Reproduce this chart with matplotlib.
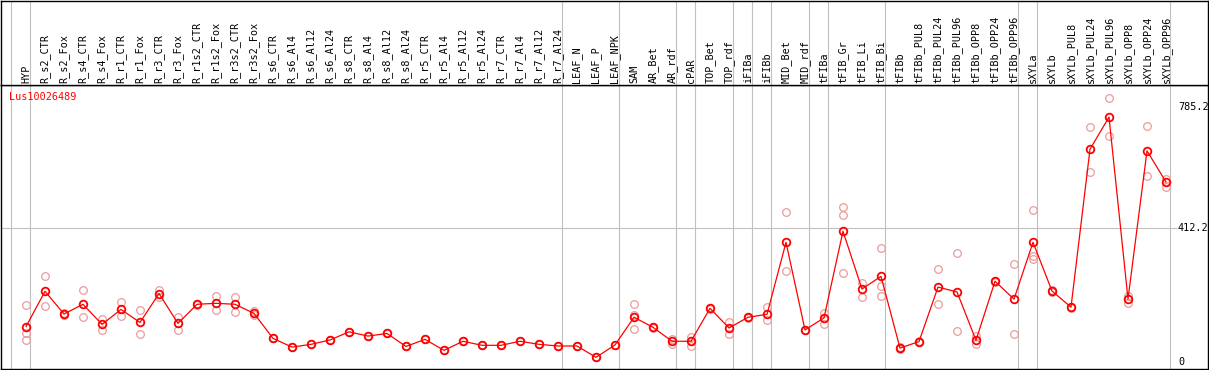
import numpy as np
import matplotlib
matplotlib.use("Agg")
import matplotlib.pyplot as plt

# sample names (one column each)
labels = [
    "HYP",
    "R_s2_CTR", "R_s2_Fox", "R_s4_CTR", "R_s4_Fox", "R_r1_CTR", "R_r1_Fox",
    "R_r3_CTR", "R_r3_Fox", "R_r1s2_CTR", "R_r1s2_Fox", "R_r3s2_CTR", "R_r3s2_Fox",
    "R_s6_CTR", "R_s6_Al4", "R_s6_Al12", "R_s6_Al24",
    "R_s8_CTR", "R_s8_Al4", "R_s8_Al12", "R_s8_Al24",
    "R_r5_CTR", "R_r5_Al4", "R_r5_Al12", "R_r5_Al24",
    "R_r7_CTR", "R_r7_Al4", "R_r7_Al12", "R_r7_Al24",
    "LEAF_N", "LEAF_P", "LEAF_NPK",
    "SAM", "AR_Bet", "AR_rdf",
    "cPAR",
    "TOP_Bet", "TOP_rdf",
    "iFIBa",
    "iFIBb",
    "MID_Bet", "MID_rdf",
    "tFIBa",
    "tFIB_Gr", "tFIB_Li", "tFIB_Bi",
    "tFIBb", "tFIBb_PUL8", "tFIBb_PUL24", "tFIBb_PUL96", "tFIBb_OPP8", "tFIBb_OPP24", "tFIBb_OPP96",
    "sXYLa",
    "sXYLb", "sXYLb_PUL8", "sXYLb_PUL24", "sXYLb_PUL96", "sXYLb_OPP8", "sXYLb_OPP24", "sXYLb_OPP96",
]

# number of columns in each tissue group (gray separators between groups)
group_sizes = [1, 28, 3, 3, 1, 2, 1, 1, 2, 1, 3, 7, 1, 7]

# mean expression per sample
means = [
    108,
    217, 147, 177, 115, 161, 121, 210, 118, 177, 180, 177, 149,
    72, 45, 53.5, 67,
    92, 79, 87, 47,
    69, 35, 63, 50.5,
    50.5, 63, 53.5, 48.4,
    48.4, 13.5, 51.5,
    137, 106, 63,
    63,
    164.5, 104,
    137,
    146,
    368, 98,
    135,
    402, 224, 263,
    42, 62, 230, 215, 66, 248, 193,
    368,
    218, 168, 655, 754, 193, 650, 554,
]

# individual replicates per sample
replicates = [
    [175, 90, 66],
    [264, 171], [150, 144], [220, 137], [132, 98], [184, 142], [158, 84],
    [220, 198], [138, 97], [178, 176], [202, 158], [199, 152], [156, 143],
    [72, 72], [45, 45], [53.5, 53.5], [67, 67],
    [92, 92], [79, 79], [87, 87], [47, 47],
    [69, 69], [35, 35], [63, 63], [50.5, 50.5],
    [50.5, 50.5], [63, 63], [53.5, 53.5], [48.4, 48.4],
    [48.4, 48.4], [13.5, 13.5], [51.5, 51.5],
    [177, 144, 100], [108, 104], [71, 55],
    [77, 48],
    [166, 163], [121, 85],
    [138, 136],
    [169, 128],
    [460, 280], [99, 97],
    [151, 116],
    [477, 451, 272], [243, 199], [350, 234, 202],
    [45, 38], [63, 61], [285, 177], [335, 95], [79, 55], [249, 246], [301, 84],
    [467, 326, 317],
    [220, 216], [170, 166], [724, 585], [813, 696], [204, 182], [727, 571], [564, 540],
]

gene = "Lus10026489"
tick_values = [785.2, 412.2, 0]
tick_texts = ["785.2", "412.2", "0"]

W, H = 1209, 370
fig = plt.figure(figsize=(W / 100, H / 100), dpi=100)
mono = "DejaVu Sans Mono"
gray = "#c0c0c0"
fs = 7.25

# pixel layout: column i sits at x = 26 + 19*i, header ends at y = 85
xlim = ((1 - 26) / 19, (1208 - 26) / 19)
hdr = 85.3
ax = fig.add_axes([1 / W, 1 / H, 1207 / W, (369 - hdr) / H])
axh = fig.add_axes([1 / W, (H - hdr) / H, 1207 / W, (hdr - 0.5) / H])

x = np.arange(len(labels))
ax.set_xlim(*xlim)
ax.set_ylim((361.7 - 369) / 0.3244, (361.7 - hdr) / 0.3244)
axh.set_xlim(*xlim)
axh.set_ylim(0, 1)

for a in (ax, axh):
    a.set_xticks([])
    a.set_yticks([])
    for s in a.spines.values():
        s.set_color("black")
        s.set_linewidth(1.0)

# group separators
ends = np.cumsum(group_sizes) - 1
seps = np.concatenate([[-1], ends]) + 0.22
for s in seps:
    ax.axvline(s, color=gray, lw=0.8, zorder=1)
    axh.axvline(s, color=gray, lw=0.8, zorder=1)

# horizontal grid at middle tick
ax.hlines(412.2, xlim[0], (1177 - 26) / 19, color=gray, lw=0.8, zorder=1)

# replicates
for i, reps in enumerate(replicates):
    ax.plot([i] * len(reps), reps, linestyle="none", marker="o", ms=5.5,
            mfc="none", mec="#eb9c9c", mew=0.9, zorder=2)

# mean line
ax.plot(x, means, color="red", lw=0.9, zorder=3)
ax.plot(x, means, linestyle="none", marker="o", ms=5.5, mfc="none",
        mec="red", mew=1.3, zorder=4)

# value labels on the right
for v, t in zip(tick_values, tick_texts):
    ax.text((1178 - 26) / 19, v, t, ha="left", va="center", fontsize=fs,
            family=mono, color="black")

# sample names
for i, lab in enumerate(labels):
    axh.text(i, 0.025, lab, rotation=90, ha="center", va="bottom",
             fontsize=fs, family=mono, color="black")

fig.text(9 / W, 1 - 97 / H, gene, ha="left", va="center", fontsize=fs,
         family=mono, color="red")

fig.savefig("out.png", dpi=100)
